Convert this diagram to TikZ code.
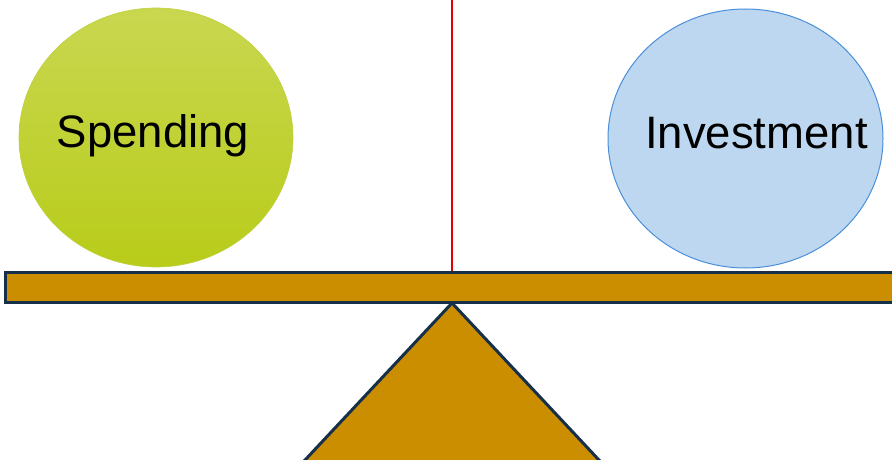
\documentclass[tikz,border=0pt]{standalone}
\usepackage{fontspec}
\setmainfont{Liberation Sans}
\usetikzlibrary{shapes.geometric}
\definecolor{plankfill}{RGB}{203,142,0}
\definecolor{navy}{RGB}{23,48,74}
\definecolor{greentop}{RGB}{201,215,80}
\definecolor{greenbot}{RGB}{184,204,26}
\definecolor{greenedge}{RGB}{190,208,60}
\definecolor{bluefill}{RGB}{189,215,240}
\definecolor{blueedge}{RGB}{74,143,217}
\definecolor{pivotred}{RGB}{224,0,0}
\tikzset{
  ball/.style={ellipse, inner sep=0pt, minimum width=274pt, minimum height=259pt},
  label/.style={anchor=base, font=\fontsize{45.5}{50}\selectfont, text=black, inner sep=0pt},
  wood/.style={fill=plankfill, draw=navy, line width=3pt, line join=miter},
}
\begin{document}
\begin{tikzpicture}[x=1pt,y=-1pt]
\useasboundingbox (0,0) rectangle (892,460);
\clip (0,0) rectangle (892,460);
\node[ball, top color=greentop, bottom color=greenbot, draw=greenedge, line width=0.6pt] (spend) at (156,137.5) {};
\node[ball, minimum width=275pt, fill=bluefill, draw=blueedge, line width=1pt] (invest) at (745.5,138.5) {};
\node[label] (spendtxt) at (153,147) {Spending};
\node[label] (investtxt) at (756.5,148) {Investment};
\coordinate (ltop) at (452,0);
\coordinate (lbot) at (452,271);
\draw[pivotred, line width=2.5pt] (ltop) -- (lbot);
\filldraw[wood] (452,303) -- (452-0.936*190,493) -- (452+0.936*190,493) -- cycle;
\filldraw[wood] (5.5,272.5) rectangle (900,302.5);
\end{tikzpicture}
\end{document}
